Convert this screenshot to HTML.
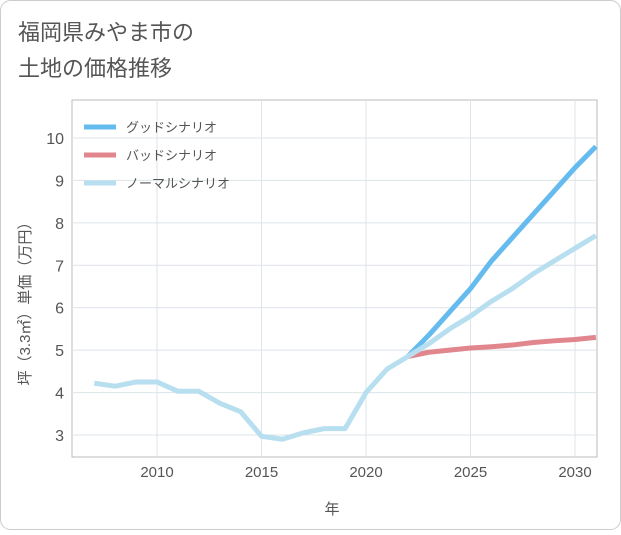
<!DOCTYPE html>
<html><head><meta charset="utf-8"><style>
body{margin:0;background:#fff;font-family:"Liberation Sans","Noto Sans CJK JP",sans-serif;}
</style></head><body>
<svg width="621" height="530" xmlns="http://www.w3.org/2000/svg" id="svg">
<rect x="0.5" y="0.5" width="620" height="529" rx="10" fill="#fff" stroke="#ccc"/>
<text x="18" y="40" font-size="22" fill="#555">福岡県みやま市の</text>
<text x="18" y="76" font-size="22" fill="#555">土地の価格推移</text>
<rect x="72" y="100" width="525" height="357" fill="#fff" stroke="#bbb"/>
<g id="grid"></g><g id="series"></g>
<text x="332" y="514" font-size="15" fill="#555" text-anchor="middle">年</text>
<text transform="translate(30,300) rotate(-90)" font-size="15" fill="#555" text-anchor="middle">坪（3.3㎡）単価（万円）</text>
<g>
<line x1="84" y1="127" x2="116" y2="127" stroke="#66bbee" stroke-width="5"/>
<text x="126" y="132" font-size="13" fill="#555">グッドシナリオ</text>
<line x1="84" y1="155" x2="116" y2="155" stroke="#e0868c" stroke-width="5"/>
<text x="126" y="160" font-size="13" fill="#555">バッドシナリオ</text>
<line x1="84" y1="183" x2="116" y2="183" stroke="#b8dff0" stroke-width="5"/>
<text x="126" y="188" font-size="13" fill="#555">ノーマルシナリオ</text>
</g>
</svg>
<script>
const years=[2007,2008,2009,2010,2011,2012,2013,2014,2015,2016,2017,2018,2019,2020,2021,2022,2023,2024,2025,2026,2027,2028,2029,2030,2031];
const normal=[4.22,4.15,4.25,4.25,4.03,4.03,3.75,3.55,2.97,2.9,3.05,3.15,3.15,4.0,4.55,4.85,5.15,5.5,5.8,6.15,6.45,6.8,7.1,7.4,7.7];
const goodYears=[2022,2023,2024,2025,2026,2027,2028,2029,2030,2031];
const good=[4.85,5.35,5.9,6.45,7.1,7.65,8.2,8.75,9.3,9.8];
const bad=[4.85,4.95,5.0,5.05,5.08,5.12,5.18,5.22,5.25,5.3];
const xTicks=[2010,2015,2020,2025,2030];
const yTicks=[3,4,5,6,7,8,9,10];
const X=y=>157+(y-2010)*20.9, Y=v=>435-(v-3)*42.43;
const ns="http://www.w3.org/2000/svg";
const grid=document.getElementById('grid'), ser=document.getElementById('series');
function mk(t,a,p){const e=document.createElementNS(ns,t);for(const k in a)e.setAttribute(k,a[k]);p.appendChild(e);return e;}
xTicks.forEach(t=>{const l=mk('line',{x1:X(t),x2:X(t),y1:100,y2:457,stroke:'#dde4ea'},grid);

const s=mk('text',{x:X(t),y:477,'font-size':15,fill:'#555','text-anchor':'middle'},grid);s.textContent=t;
});
yTicks.forEach(t=>{const l=mk('line',{x1:72,x2:597,y1:Y(t),y2:Y(t),stroke:'#dde4ea'},grid);

const s=mk('text',{x:64,y:Y(t)+6,'font-size':16,fill:'#555','text-anchor':'end'},grid);s.textContent=t;
});
function line(xs,vs,c,n){const p=mk('polyline',{points:xs.map((x,i)=>X(x)+','+Y(vs[i])).join(' '),fill:'none',stroke:c,'stroke-width':5,'stroke-linejoin':'round'},ser);
}
line(goodYears,bad,'#e0868c','bad-scenario-line');
line(goodYears,good,'#66bbee','good-scenario-line');
line(years,normal,'#b8dff0','normal-scenario-line');
</script>
</body></html>
